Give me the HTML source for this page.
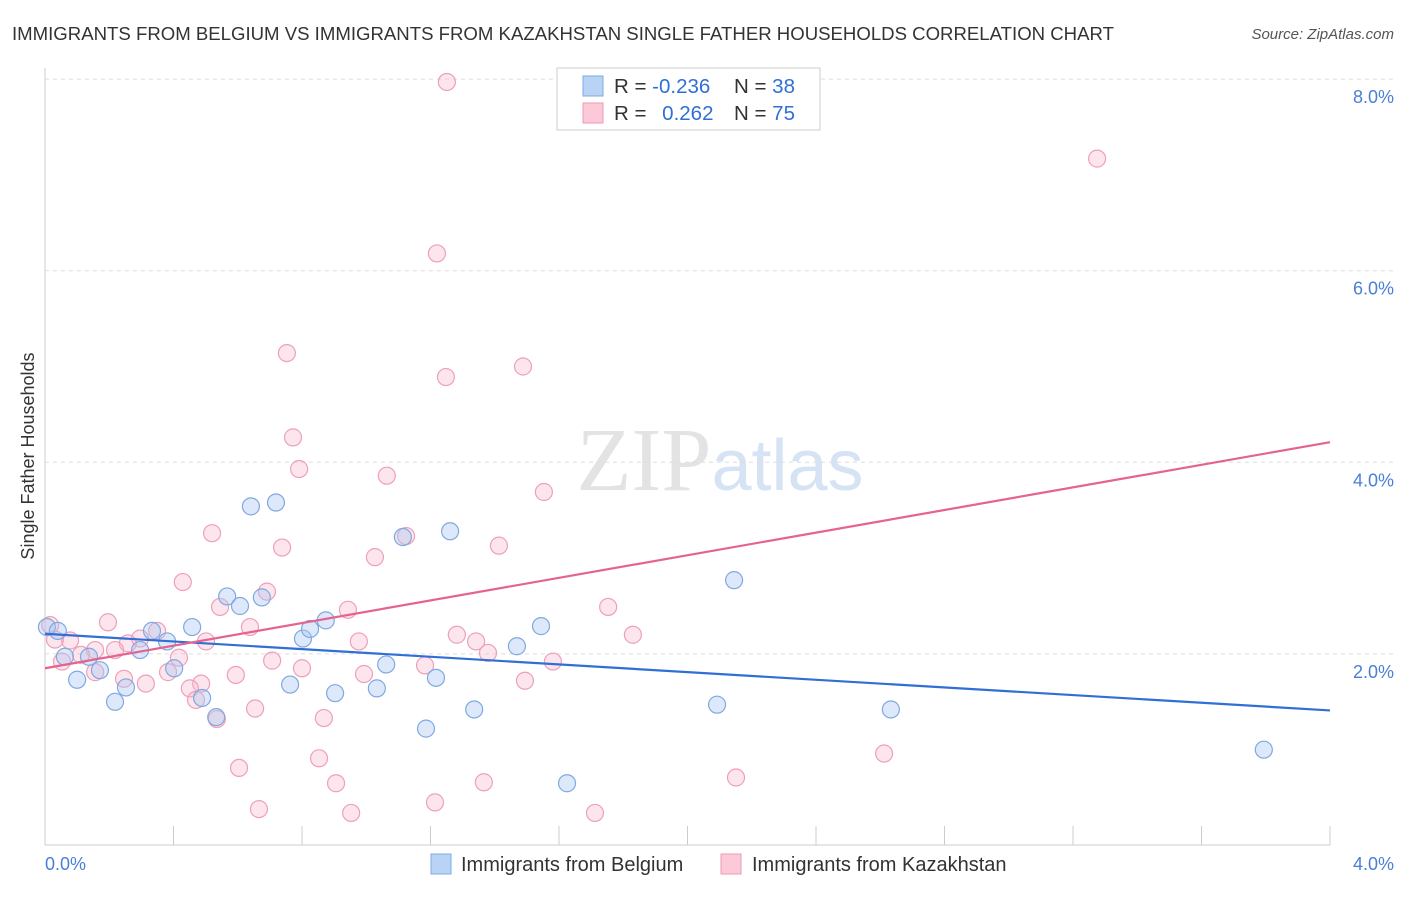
<!DOCTYPE html>
<html><head><meta charset="utf-8"><style>
body{margin:0;background:#fff;font-family:"Liberation Sans",sans-serif}
svg text{font-family:"Liberation Sans",sans-serif}
</style></head><body>
<svg id="c" width="1406" height="892">
<text x="12" y="40" font-size="18.6" fill="#333">IMMIGRANTS FROM BELGIUM VS IMMIGRANTS FROM KAZAKHSTAN SINGLE FATHER HOUSEHOLDS CORRELATION CHART</text>
<text x="1394" y="39" font-size="15" fill="#555" text-anchor="end" font-style="italic">Source: ZipAtlas.com</text>
<text x="720" y="490" font-size="90" fill="#e3e3e3" text-anchor="middle" font-family="Liberation Serif"><tspan font-family="Liberation Serif">ZIP</tspan><tspan fill="#d5e3f5" font-family="Liberation Sans" font-size="72">atlas</tspan></text>
<text transform="translate(34,456) rotate(-90)" font-size="18" fill="#333" text-anchor="middle">Single Father Households</text>
<g id="grid"></g><g id="pts"></g><g id="lines"></g>
<g>
<rect x="557" y="68" width="263" height="62" fill="#fff" stroke="#ccc"/>
<rect x="583" y="76" width="20" height="20" fill="#b9d3f5" stroke="#7fa9e0"/>
<rect x="583" y="103" width="20" height="20" fill="#fbc9d8" stroke="#ee9ab4"/>
<text x="614" y="93" font-size="20.5" fill="#333">R = <tspan fill="#2f6fd6">-0.236</tspan></text>
<text x="734" y="93" font-size="20.5" fill="#333">N = <tspan fill="#2f6fd6">38</tspan></text>
<text x="614" y="120" font-size="20.5" fill="#333">R = <tspan fill="#2f6fd6" dx="10">0.262</tspan></text>
<text x="734" y="120" font-size="20.5" fill="#333">N = <tspan fill="#2f6fd6">75</tspan></text>
</g>
<g>
<rect x="431" y="854" width="20" height="20" fill="#b9d3f5" stroke="#7fa9e0"/>
<text x="461" y="871" font-size="20" fill="#333">Immigrants from Belgium</text>
<rect x="721" y="854" width="20" height="20" fill="#fbc9d8" stroke="#ee9ab4"/>
<text x="752" y="871" font-size="20" fill="#333">Immigrants from Kazakhstan</text>
</g>
<text x="45" y="870" font-size="18" fill="#4a7fd6">0.0%</text>
<text x="1394" y="870" font-size="18" fill="#4a7fd6" text-anchor="end">4.0%</text>
</svg>
<script>
const yTicks=[2,4,6,8];
const yTickLabels=["2.0%","4.0%","6.0%","8.0%"];
const xTickVals=[0,0.4,0.8,1.2,1.6,2,2.4,2.8,3.2,3.6,4];
const belgiumX=[0.006,0.04,0.062,0.1,0.171,0.137,0.218,0.252,0.296,0.333,0.38,0.402,0.458,0.489,0.533,0.567,0.607,0.641,0.675,0.719,0.763,0.803,0.825,0.874,0.903,1.033,1.062,1.114,1.186,1.217,1.261,1.336,1.469,1.544,1.625,2.092,2.145,2.633,3.794];
const belgiumY=[2.28,2.24,1.97,1.73,1.83,1.97,1.50,1.65,2.04,2.24,2.13,1.85,2.28,1.54,1.34,2.60,2.50,3.54,2.59,3.58,1.68,2.16,2.26,2.35,1.59,1.64,1.89,3.22,1.22,1.75,3.28,1.42,2.08,2.29,0.65,1.47,2.77,1.42,1.00];
const kazX=[1.251,3.275,1.220,0.753,1.488,1.248,0.772,0.791,1.064,1.553,0.520,1.124,0.738,1.413,1.027,0.429,0.691,0.545,0.943,1.753,0.196,0.638,1.830,1.282,1.342,0.977,0.501,0.349,0.296,0.258,0.078,0.156,0.218,1.379,1.581,0.707,0.417,0.112,0.800,1.183,0.594,0.993,0.383,0.246,0.314,0.486,1.494,0.451,0.053,0.156,0.470,0.654,0.535,0.868,0.604,0.853,2.612,2.151,0.906,1.366,0.666,1.214,0.953,1.712,0.016,0.031];
const kazY=[7.97,7.17,6.18,5.14,5.00,4.89,4.26,3.93,3.86,3.69,3.26,3.23,3.11,3.13,3.01,2.75,2.65,2.49,2.46,2.49,2.33,2.28,2.20,2.20,2.13,2.13,2.13,2.24,2.16,2.11,2.14,2.04,2.04,2.01,1.92,1.93,1.96,1.99,1.85,1.88,1.78,1.79,1.81,1.74,1.69,1.69,1.72,1.64,1.92,1.81,1.52,1.43,1.32,1.33,0.81,0.91,0.96,0.71,0.65,0.66,0.38,0.45,0.34,0.34,2.30,2.15];
const trendBelgium=[2.21,1.41];
const trendKaz=[1.85,4.21];
const X=v=>45+v/4*1285, Y=v=>845.5-v*95.8;
const NS="http://www.w3.org/2000/svg";
function mk(t,a,p){const e=document.createElementNS(NS,t);for(const k in a)e.setAttribute(k,a[k]);p.appendChild(e);return e;}
const g=document.getElementById('grid');
const ax=mk('line',{x1:45,x2:45,y1:68,y2:845,stroke:'#ccc'},g);


const bx=mk('line',{x1:45,x2:1330,y1:845,y2:845,stroke:'#ccc'},g);


yTicks.forEach((v,i)=>{
 const l=mk('line',{x1:45,x2:1394,y1:Y(v),y2:Y(v),stroke:'#ddd','stroke-dasharray':'4,4'},g);
 
 
 const t=mk('text',{x:1394,y:Y(v)+24,'font-size':18,fill:'#4a7fd6','text-anchor':'end'},g);
 t.textContent=yTickLabels[i];
 
 
});
xTickVals.forEach(v=>{
 const l=mk('line',{x1:X(v),x2:X(v),y1:826,y2:845,stroke:'#ccc'},g);
 
 
});
const p=document.getElementById('pts');
kazX.forEach((x,i)=>{
 const c=mk('circle',{cx:X(x),cy:Y(kazY[i]),r:8.5,fill:'rgba(248,180,202,0.35)',stroke:'#eea0b9','stroke-width':1.2},p);
 
 
});
belgiumX.forEach((x,i)=>{
 const c=mk('circle',{cx:X(x),cy:Y(belgiumY[i]),r:8.5,fill:'rgba(170,200,242,0.4)',stroke:'#7fa9e0','stroke-width':1.2},p);
 
 
});
const L=document.getElementById('lines');
const tb=mk('line',{x1:X(0),x2:X(4),y1:Y(trendBelgium[0]),y2:Y(trendBelgium[1]),stroke:'#2f6fd6','stroke-width':2.2},L);


const tk=mk('line',{x1:X(0),x2:X(4),y1:Y(trendKaz[0]),y2:Y(trendKaz[1]),stroke:'#e5638f','stroke-width':2.2},L);


</script>
</body></html>
